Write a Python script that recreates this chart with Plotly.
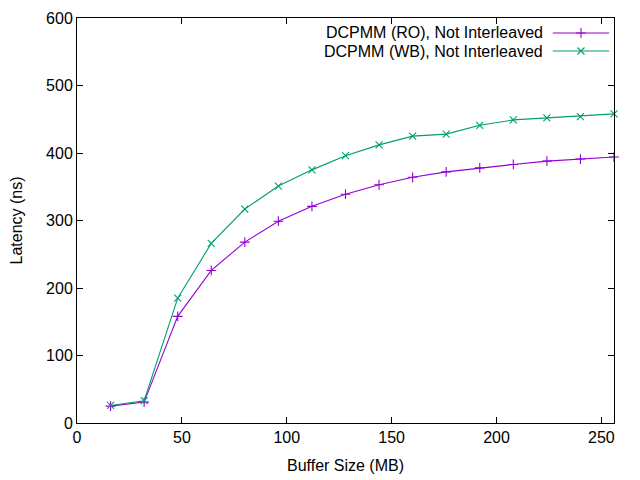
import plotly.graph_objects as go

buffer_mb = [16, 32, 48, 64, 80, 96, 112, 128, 144, 160, 176, 192, 208, 224, 240, 256]
ro_latency = [25, 31, 158, 226, 268, 299, 321, 339, 353, 364, 372, 378, 383, 388, 391, 394]
wb_latency = [26, 33, 185, 266, 317, 351, 375, 396, 412, 425, 428, 441, 449, 452, 454, 458]

series_names = ["DCPMM (RO), Not Interleaved", "DCPMM (WB), Not Interleaved"]
series_colors = ["#9400D3", "#009E73"]
series_symbols = ["cross-thin", "x-thin"]
x_ticks = [0, 50, 100, 150, 200, 250]
y_ticks = [0, 100, 200, 300, 400, 500, 600]

FONT = "Liberation Sans, Arial, sans-serif"
MSIZE = 7

fig = go.Figure()
for name, ys, col, sym in zip(series_names, [ro_latency, wb_latency], series_colors, series_symbols):
    fig.add_trace(go.Scatter(
        x=buffer_mb, y=ys, mode="lines+markers", name=name,
        line=dict(color=col, width=1.1),
        marker=dict(symbol=sym, size=MSIZE, color=col, line=dict(color=col, width=1.1)),
        showlegend=False, cliponaxis=False,
    ))

# gnuplot-style legend: text on the left, sample on the right
key_rows = [0.963, 0.9185]
for name, col, sym, ky in zip(series_names, series_colors, series_symbols, key_rows):
    fig.add_annotation(xref="paper", yref="paper", x=0.872, y=ky, text=name,
                       showarrow=False, xanchor="right", yanchor="middle",
                       font=dict(family=FONT, size=16, color="black"))
    fig.add_shape(type="line", xref="paper", yref="paper", x0=0.886, x1=0.991, y0=ky, y1=ky,
                  line=dict(color=col, width=1.1))
    fig.add_trace(go.Scatter(x=[0.9385], y=[ky], xaxis="x2", yaxis="y2", mode="markers",
                             marker=dict(symbol=sym, size=MSIZE, color=col, line=dict(color=col, width=1.1)),
                             showlegend=False, hoverinfo="skip"))

axis_common = dict(showline=True, linecolor="black", linewidth=1, mirror="ticks",
                   ticks="inside", ticklen=6, tickcolor="black", tickwidth=1,
                   showgrid=False, zeroline=False, automargin=False,
                   tickfont=dict(family=FONT, size=16, color="black"))

# page body has an 8px margin, so the figure is sized to fit the 640x480 window
fig.update_layout(
    width=632, height=472,
    margin=dict(l=69, r=26, t=10, b=57),
    paper_bgcolor="white", plot_bgcolor="white",
    font=dict(family=FONT, size=16, color="black"),
    xaxis=dict(range=[0, 256], tickvals=x_ticks,
               title=dict(text="Buffer Size (MB)", font=dict(family=FONT, size=16), standoff=14),
               **axis_common),
    yaxis=dict(range=[0, 600], tickvals=y_ticks,
               title=dict(text="Latency (ns)", font=dict(family=FONT, size=16), standoff=19),
               **axis_common),
    xaxis2=dict(overlaying="x", range=[0, 1], visible=False, domain=[0, 1]),
    yaxis2=dict(overlaying="y", range=[0, 1], visible=False),
)

fig.write_html("out.html")
